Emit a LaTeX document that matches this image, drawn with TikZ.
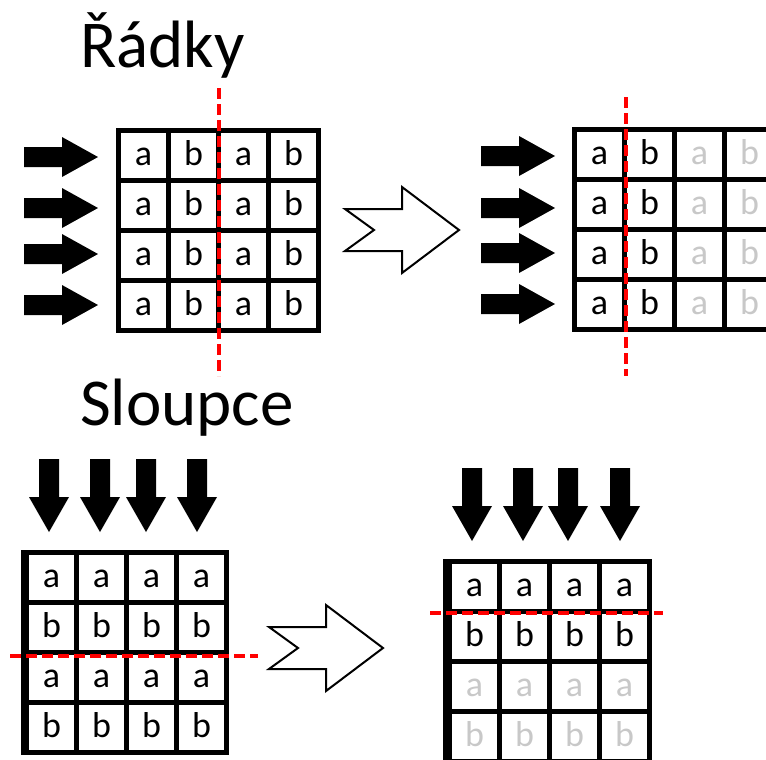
\documentclass[tikz,border=0pt]{standalone}
\usepackage{fontspec}
\setmainfont{Carlito}
\definecolor{cutred}{RGB}{255,0,0}
\definecolor{fadedgray}{RGB}{200,200,200}

% 4x4 table: black frame with white cells; #1 x0, #2 y0, #3 left border
\newcommand\cellgrid[3]{%
  \fill[frame] (#1,#2) rectangle ++(#3+200,205);
  \foreach \r in {0,...,3}
    \foreach \c in {0,...,3}
      \fill[cellbox] ({#1+#3+50*\c},{#2+5+50*\r}) rectangle ++(45,45);
}
% solid block arrow pointing right: #1 tail x, #2 centre y
\newcommand\rightblock[2]{%
  \fill[blockarrow] (#1,#2-10) -- ++(38,0) -- ++(0,-10) -- ++(36,20)
    -- ++(-36,20) -- ++(0,-10) -- ++(-38,0) -- cycle;
}
% solid block arrow pointing down: #1 centre x, #2 tail y
\newcommand\downblock[2]{%
  \fill[blockarrow] (#1-10,#2) -- ++(0,38) -- ++(-10,0) -- ++(20,35)
    -- ++(20,-35) -- ++(-10,0) -- ++(0,-38) -- cycle;
}
% notched outline arrow: #1 tail x, #2 centre y
\newcommand\notchedblock[2]{%
  \draw[hollowarrow] (#1,#2-21) -- ++(29,21) -- ++(-29,21) -- ++(57,0)
    -- ++(0,22) -- ++(57,-43) -- ++(-57,-43) -- ++(0,22) -- cycle;
}

\begin{document}
\begin{tikzpicture}[x=1pt,y=-1pt,
  frame/.style={fill=black},
  cellbox/.style={fill=white},
  letter/.style={anchor=base,inner sep=0pt,font=\fontsize{36}{36}\selectfont},
  ghost/.style={letter,text=fadedgray},
  blockarrow/.style={fill=black},
  hollowarrow/.style={draw=black,line width=2pt,fill=white,line join=miter},
  cutline/.style={draw=cutred,line width=3.5pt,dash pattern=on 11pt off 5pt},
  heading/.style={anchor=base west,inner sep=0pt,font=\fontsize{67}{67}\selectfont}]
\useasboundingbox (0,0) rectangle (766,760);
\clip (0,0) rectangle (766,760);

% ---------- rows ----------
\node[heading] (rowtitle) at (80,67) {Řádky};

\foreach \y in {157,208,254,305} \rightblock{24}{\y}
\cellgrid{116}{128}{5}
\foreach \c/\l in {0/a,1/b,2/a,3/b}
  \foreach \r in {0,...,3}
    \node[letter] (rl-\r-\c) at ({143.5+50*\c},{165.5+50*\r}) {\l};
\draw[cutline] (219,88) -- (219,376);

\notchedblock{345}{230}

\foreach \y in {156,208,253,304} \rightblock{481}{\y}
\cellgrid{572}{127}{5}
\foreach \c/\l/\s in {0/a/letter,1/b/letter,2/a/ghost,3/b/ghost}
  \foreach \r in {0,...,3}
    \node[\s] (rr-\r-\c) at ({599.5+50*\c},{164.5+50*\r}) {\l};
\draw[cutline] (626,97) -- (626,376);

% ---------- columns ----------
\node[heading] (coltitle) at (80,425) {Sloupce};

\foreach \x in {49,100,146,197} \downblock{\x}{459}
\cellgrid{21}{550}{8}
\foreach \r/\l in {0/a,1/b,2/a,3/b}
  \foreach \c in {0,...,3}
    \node[letter] (cl-\r-\c) at ({51.5+50*\c},{587.5+50*\r}) {\l};
\draw[cutline] (10,656) -- (258,656);

\notchedblock{269}{648}

\foreach \x in {472,523,568,620} \downblock{\x}{468}
\cellgrid{443}{559}{9}
\foreach \r/\l/\s in {0/a/letter,1/b/letter,2/a/ghost,3/b/ghost}
  \foreach \c in {0,...,3}
    \node[\s] (cr-\r-\c) at ({474.5+50*\c},{596.5+50*\r}) {\l};
\draw[cutline] (430,613) -- (663,613);
\end{tikzpicture}
\end{document}
